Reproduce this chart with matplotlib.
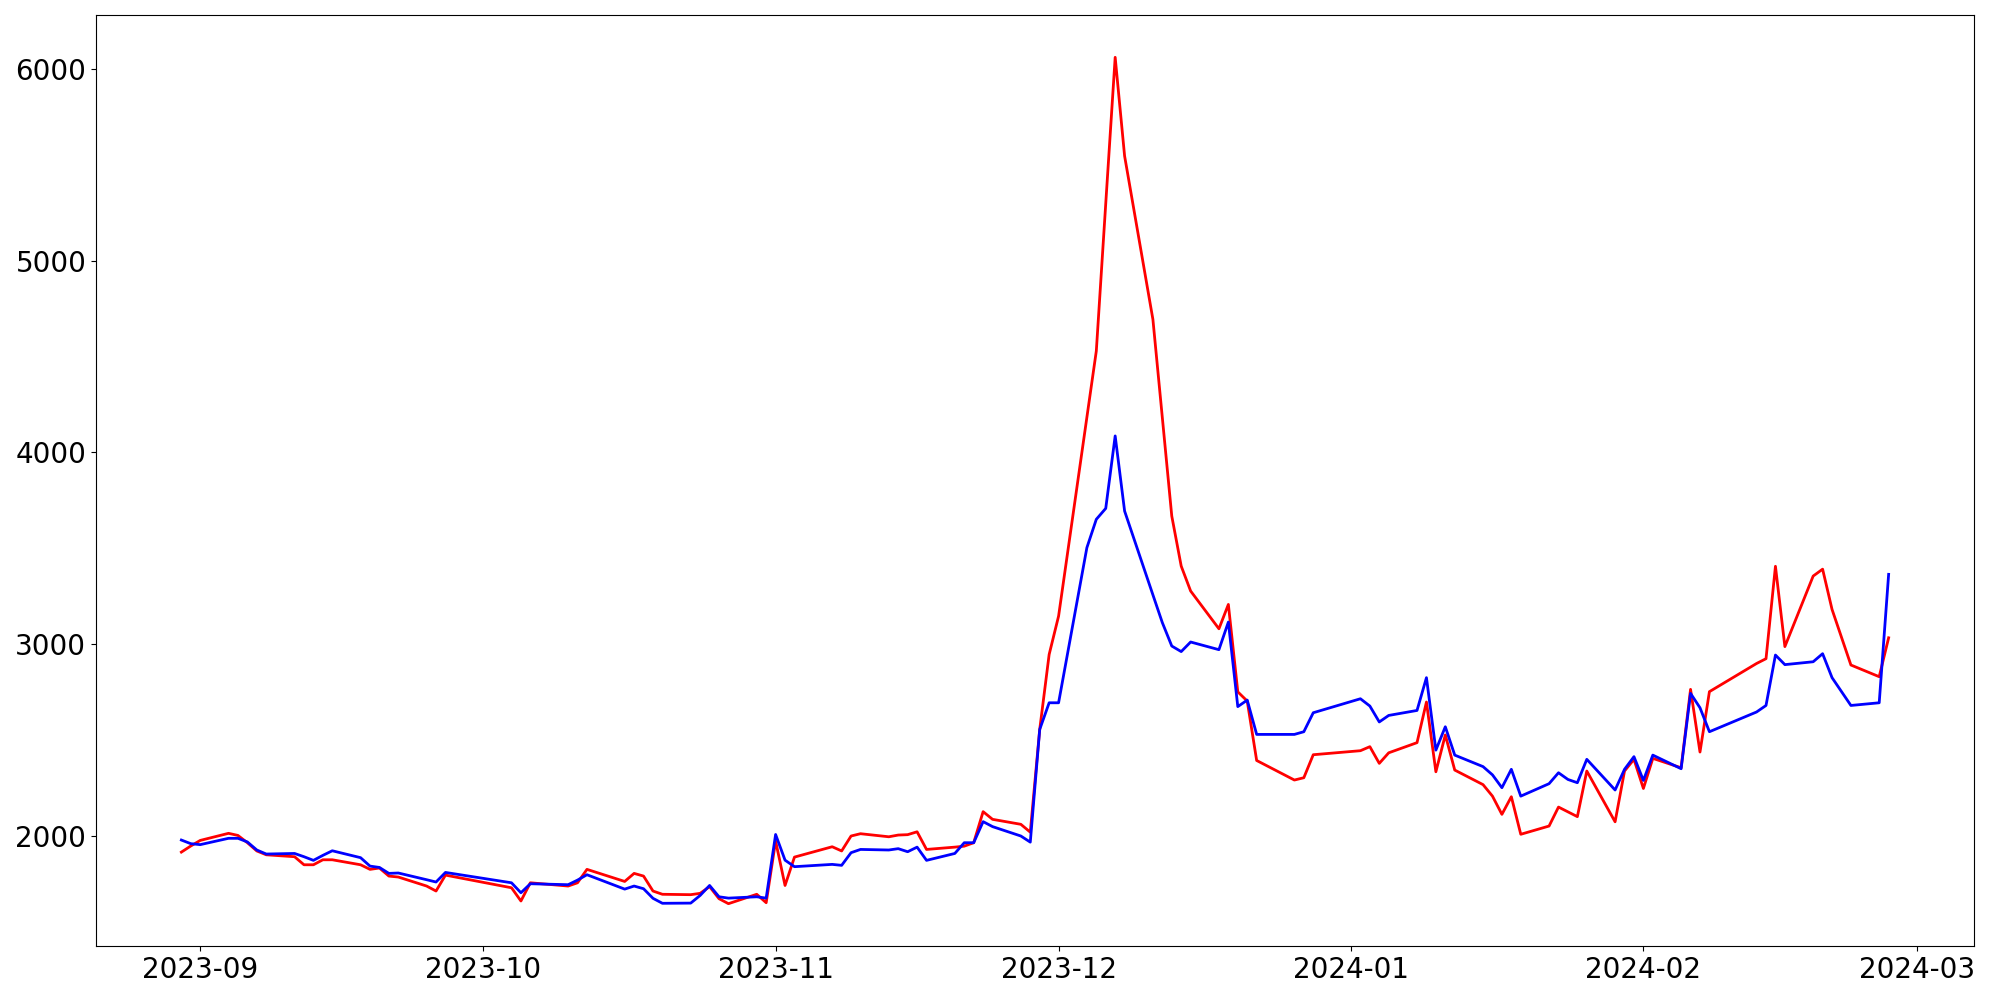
import pandas as pd
import matplotlib
matplotlib.use('Agg')
import matplotlib.pyplot as plt

dates = [
    '2023-08-30', '2023-08-31', '2023-09-01', '2023-09-04', '2023-09-05', '2023-09-06',
    '2023-09-07', '2023-09-08', '2023-09-11', '2023-09-12', '2023-09-13', '2023-09-14',
    '2023-09-15', '2023-09-18', '2023-09-19', '2023-09-20', '2023-09-21', '2023-09-22',
    '2023-09-25', '2023-09-26', '2023-09-27', '2023-10-04', '2023-10-05', '2023-10-06',
    '2023-10-10', '2023-10-11', '2023-10-12', '2023-10-16', '2023-10-17', '2023-10-18',
    '2023-10-19', '2023-10-20', '2023-10-23', '2023-10-24', '2023-10-25', '2023-10-26',
    '2023-10-27', '2023-10-30', '2023-10-31', '2023-11-01', '2023-11-02', '2023-11-03',
    '2023-11-07', '2023-11-08', '2023-11-09', '2023-11-10', '2023-11-13', '2023-11-14',
    '2023-11-15', '2023-11-16', '2023-11-17', '2023-11-20', '2023-11-21', '2023-11-22',
    '2023-11-23', '2023-11-24', '2023-11-27', '2023-11-28', '2023-11-29', '2023-11-30',
    '2023-12-01', '2023-12-04', '2023-12-05', '2023-12-06', '2023-12-07', '2023-12-08',
    '2023-12-11', '2023-12-12', '2023-12-13', '2023-12-14', '2023-12-15', '2023-12-18',
    '2023-12-19', '2023-12-20', '2023-12-21', '2023-12-22', '2023-12-26', '2023-12-27',
    '2023-12-28', '2024-01-02', '2024-01-03', '2024-01-04', '2024-01-05', '2024-01-08',
    '2024-01-09', '2024-01-10', '2024-01-11', '2024-01-12', '2024-01-15', '2024-01-16',
    '2024-01-17', '2024-01-18', '2024-01-19', '2024-01-22', '2024-01-23', '2024-01-24',
    '2024-01-25', '2024-01-26', '2024-01-29', '2024-01-30', '2024-01-31', '2024-02-01',
    '2024-02-02', '2024-02-05', '2024-02-06', '2024-02-07', '2024-02-08', '2024-02-13',
    '2024-02-14', '2024-02-15', '2024-02-16', '2024-02-19', '2024-02-20', '2024-02-21',
    '2024-02-23', '2024-02-26', '2024-02-27',
]

red = [
    1914, 1946, 1975, 2012, 2001, 1963,
    1920, 1900, 1890, 1848, 1848, 1874,
    1874, 1848, 1824, 1831, 1789, 1784,
    1737, 1711, 1794, 1728, 1659, 1754,
    1737, 1754, 1824, 1761, 1803, 1789,
    1711, 1694, 1692, 1699, 1734, 1671,
    1645, 1694, 1650, 1972, 1740, 1888,
    1942, 1920, 1998, 2010, 1994, 2003,
    2005, 2020, 1928, 1940, 1945, 1963,
    2125, 2085, 2059, 2018, 2554, 2945,
    3145, 4182, 4528, 5297, 6060, 5545,
    4693, 4180, 3667, 3406, 3276, 3079,
    3206, 2750, 2702, 2392, 2290, 2302,
    2422, 2443, 2464, 2377, 2432, 2485,
    2697, 2333, 2525, 2342, 2266, 2206,
    2111, 2203, 2007, 2050, 2149, 2124,
    2099, 2337, 2072, 2337, 2398, 2246,
    2403, 2354, 2763, 2436, 2751, 2898,
    2923, 3405, 2986, 3354, 3390, 3180,
    2890, 2829, 3032,
]

blue = [
    1977, 1958, 1953, 1986, 1986, 1967,
    1925, 1904, 1907, 1890, 1871, 1897,
    1921, 1885, 1841, 1834, 1803, 1805,
    1770, 1758, 1808, 1754, 1702, 1749,
    1744, 1768, 1796, 1721, 1737, 1723,
    1673, 1647, 1648, 1688, 1740, 1681,
    1674, 1681, 1674, 2006, 1872, 1838,
    1850, 1845, 1911, 1928, 1925, 1932,
    1916, 1940, 1871, 1907, 1963, 1963,
    2073, 2047, 1998, 1966, 2554, 2693,
    2693, 3502, 3650, 3707, 4085, 3693,
    3256, 3111, 2989, 2960, 3010, 2970,
    3114, 2673, 2707, 2528, 2528, 2542,
    2641, 2714, 2676, 2593, 2627, 2653,
    2824, 2446, 2568, 2420, 2360, 2317,
    2250, 2346, 2206, 2271, 2328, 2293,
    2276, 2398, 2238, 2346, 2412, 2288,
    2420, 2349, 2742, 2667, 2542, 2645,
    2679, 2942, 2892, 2907, 2949, 2824,
    2679, 2693, 3363,
]

x = pd.to_datetime(dates)

plt.figure(figsize=(20, 10), dpi=100)
plt.plot(x, red, color='r', linewidth=2)
plt.plot(x, blue, color='b', linewidth=2)
plt.xticks(fontsize=20)
plt.yticks(fontsize=20)
plt.subplots_adjust(left=0.048, right=0.987, top=0.985, bottom=0.054)
plt.savefig('out.png')
